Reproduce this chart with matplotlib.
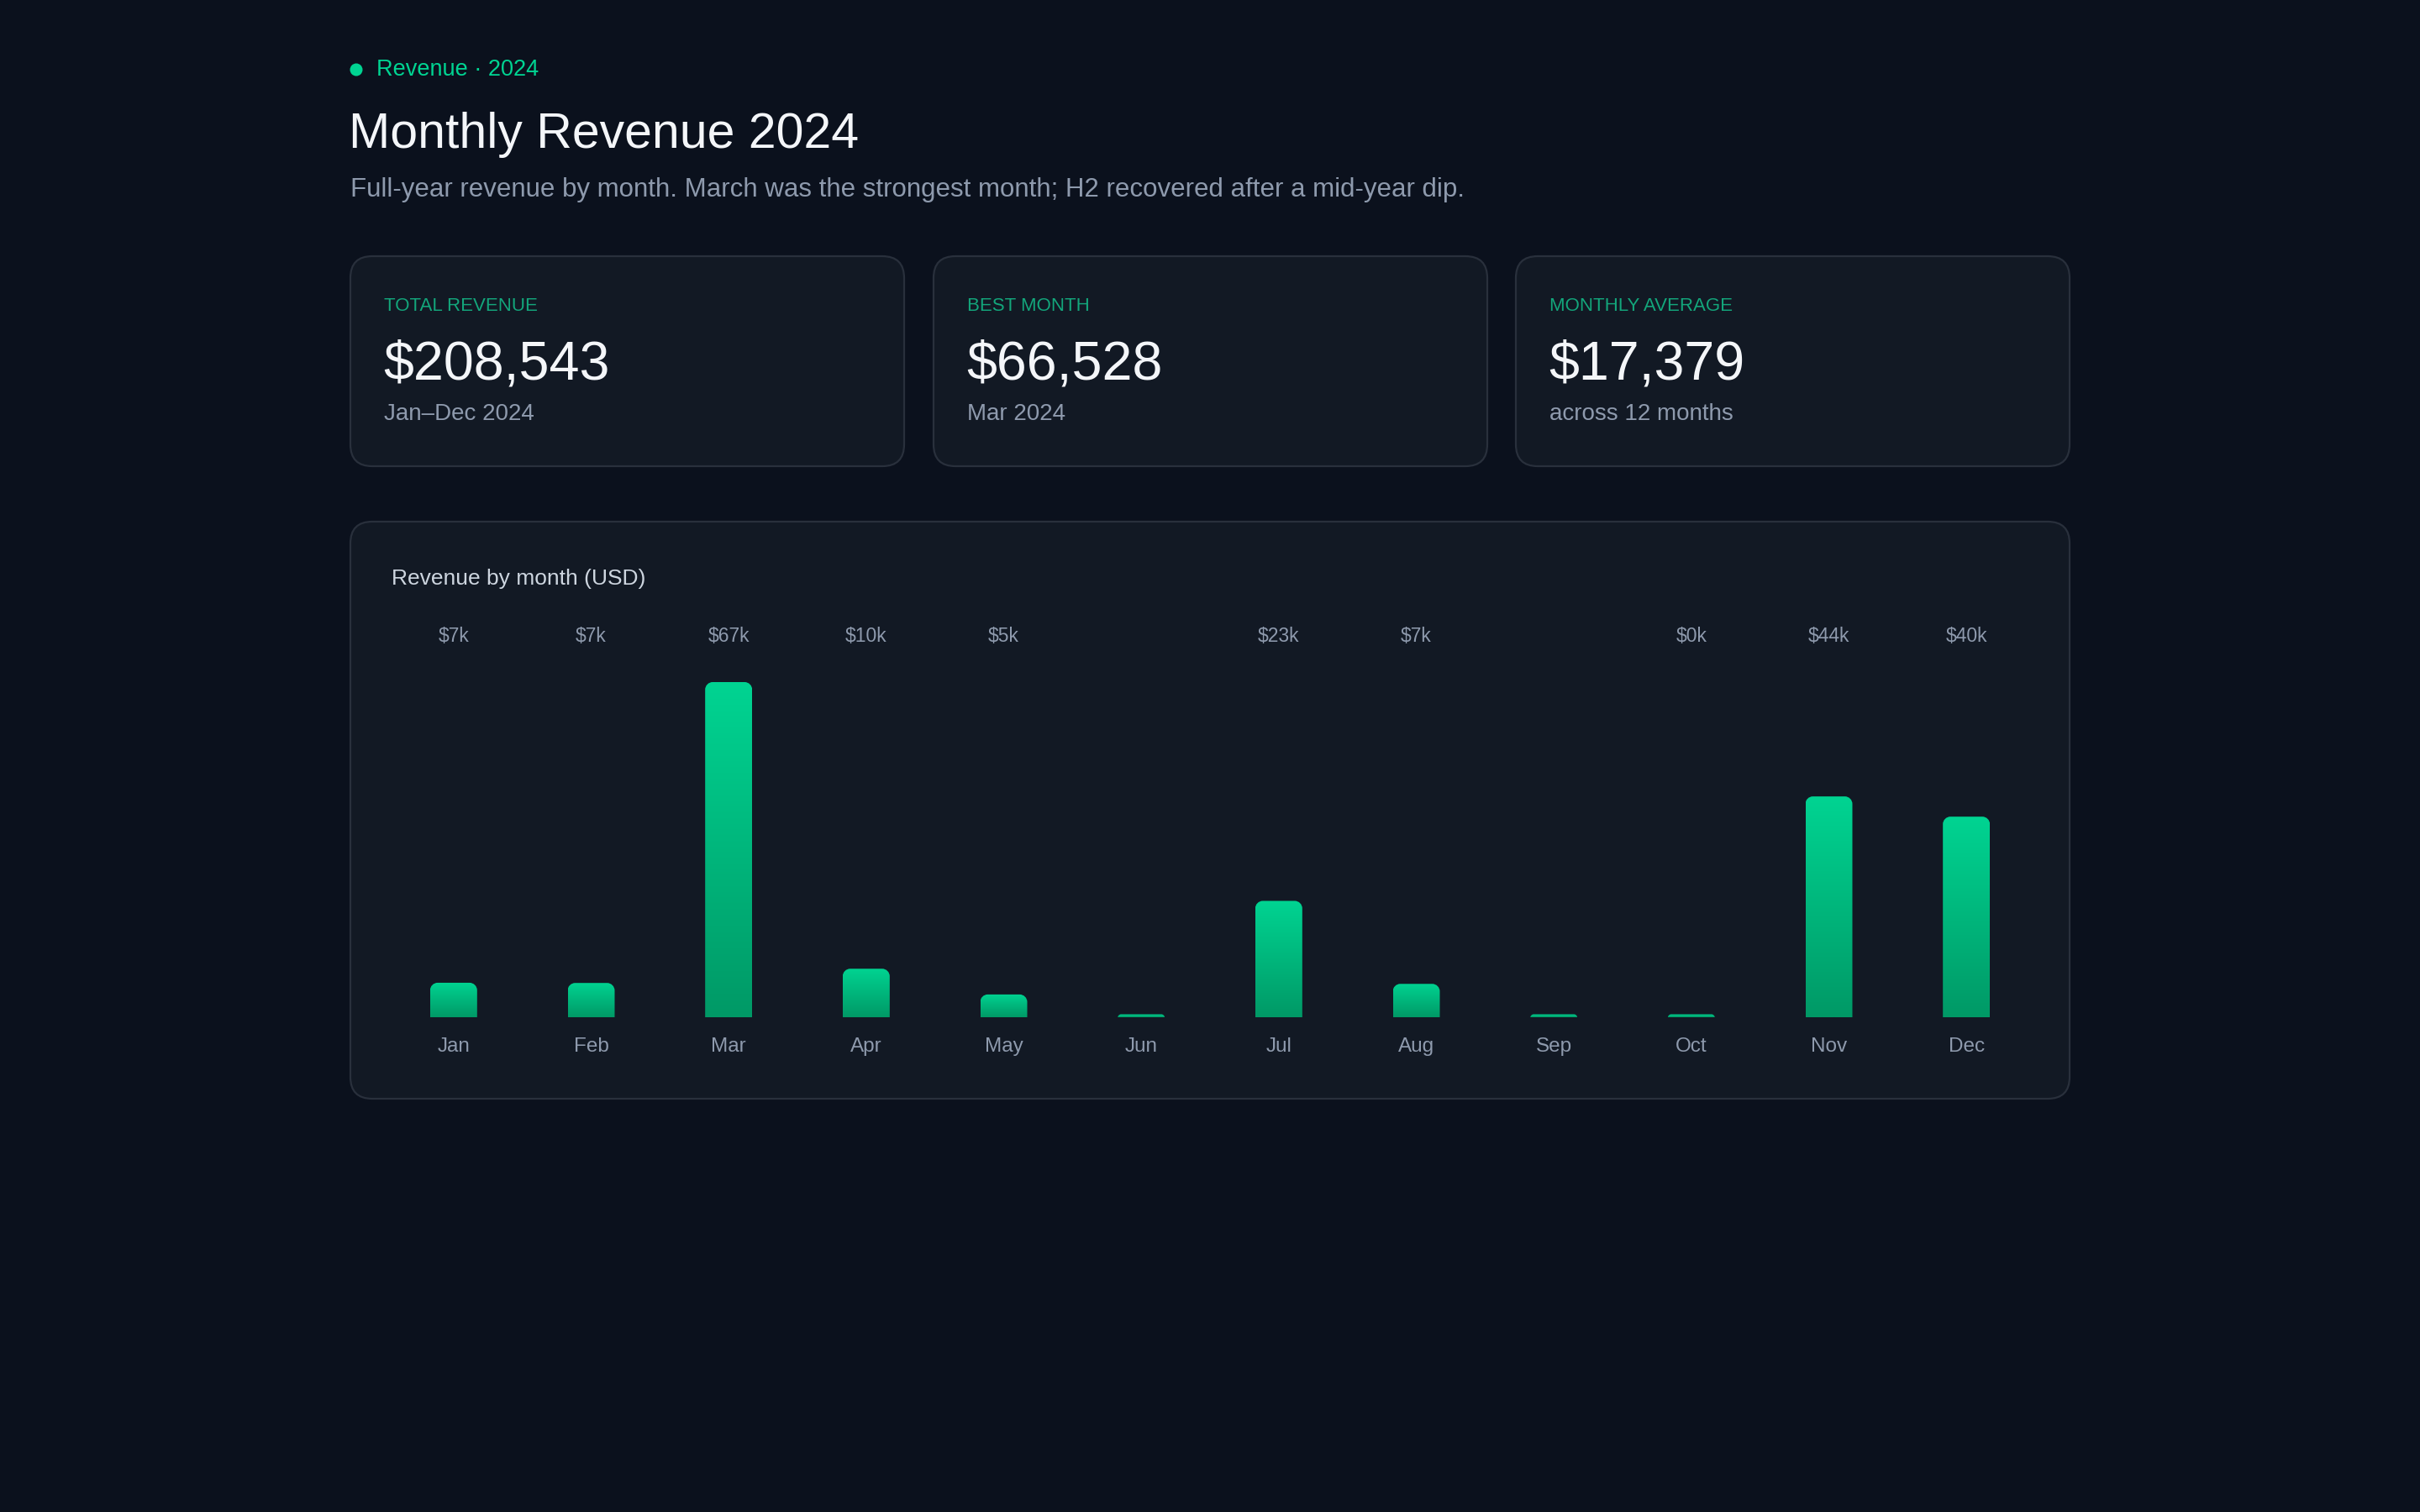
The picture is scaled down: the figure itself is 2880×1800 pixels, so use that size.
import matplotlib
matplotlib.use("Agg")
import matplotlib.pyplot as plt
import numpy as np
from matplotlib.patches import FancyBboxPatch, PathPatch, Circle
from matplotlib.path import Path
from matplotlib.colors import LinearSegmentedColormap
from matplotlib.transforms import blended_transform_factory

plt.rcParams['font.family'] = ['Liberation Sans', 'DejaVu Sans']

# ---------------- data ----------------
months = ["Jan", "Feb", "Mar", "Apr", "May", "Jun",
          "Jul", "Aug", "Sep", "Oct", "Nov", "Dec"]
revenue = [6920, 6880, 66528, 9700, 4600, 0,
           23150, 6700, 0, 355, 43860, 39850]

tag_text = "Revenue · 2024"
title_text = "Monthly Revenue 2024"
subtitle_text = ("Full-year revenue by month. March was the strongest month; "
                 "H2 recovered after a mid-year dip.")
card_labels = ["TOTAL REVENUE", "BEST MONTH", "MONTHLY AVERAGE"]
card_values = ["$208,543", "$66,528", "$17,379"]
card_subs = ["Jan–Dec 2024", "Mar 2024", "across 12 months"]
panel_title = "Revenue by month (USD)"

# ---------------- style ----------------
W, H = 2880, 1800
PAGE_BG = "#0b111d"
CARD_BG = "#121924"
BORDER = "#29303c"
GREEN = "#00d492"
LABEL_GREEN = "#13a67b"
TITLE_C = "#f4f6f9"
MUTED = "#8e9aad"
PANEL_TITLE_C = "#cdd5df"
BAR_TOP = "#00d492"
BAR_BOT = "#009966"

fig = plt.figure(figsize=(W / 100, H / 100), dpi=100, facecolor=PAGE_BG)
bg = fig.add_axes([0, 0, 1, 1])
bg.set_xlim(0, W)
bg.set_ylim(H, 0)
bg.axis("off")
bg.set_facecolor(PAGE_BG)

# header
bg.add_patch(Circle((424, 83), 7.5, color=GREEN, lw=0))
bg.text(448, 83, tag_text, color=GREEN, fontsize=19.5, va="center", ha="left")
bg.text(415, 161, title_text, color=TITLE_C, fontsize=42.5, va="center", ha="left")
bg.text(417, 226, subtitle_text, color=MUTED, fontsize=22.5, va="center", ha="left")

# cards
card_lefts = [417, 1111, 1804]
card_w = 659
card_top, card_bot = 305, 555
for i, cl in enumerate(card_lefts):
    bg.add_patch(FancyBboxPatch((cl, card_top), card_w, card_bot - card_top,
                                boxstyle="round,pad=0,rounding_size=26",
                                facecolor=CARD_BG, edgecolor=BORDER, lw=1.6))
    bg.text(cl + 40, 364, card_labels[i], color=LABEL_GREEN, fontsize=16,
            va="center", ha="left")
    bg.text(cl + 39, 434, card_values[i], color=TITLE_C, fontsize=46.5,
            va="center", ha="left")
    bg.text(cl + 40, 493, card_subs[i], color=MUTED, fontsize=20,
            va="center", ha="left")

# chart panel
bg.add_patch(FancyBboxPatch((417, 621), 2463 - 417, 1308 - 621,
                            boxstyle="round,pad=0,rounding_size=26",
                            facecolor=CARD_BG, edgecolor=BORDER, lw=1.6))
bg.text(466, 689, panel_title, color=PANEL_TITLE_C, fontsize=19,
        va="center", ha="left")

# bar axes
ax_left, ax_right = 458, 2422
base_y, top_y = 1211.5, 812
ax = fig.add_axes([ax_left / W, (H - base_y) / H,
                   (ax_right - ax_left) / W, (base_y - top_y) / H])
ax.axis("off")
ax.patch.set_alpha(0)

x = np.arange(len(months))
vmax = max(revenue)
ax.set_xlim(-0.5, len(months) - 0.5)
ax.set_ylim(0, vmax)
bar_w = 0.342
bars = ax.bar(x, revenue, width=bar_w, color="none", edgecolor="none")

px_per_x = (ax_right - ax_left) / len(months)
px_per_y = (base_y - top_y) / vmax
min_h = 4 / px_per_y

cmap = LinearSegmentedColormap.from_list("g", [BAR_BOT, BAR_TOP])
grad = np.linspace(0, 1, 256).reshape(-1, 1)
k = 0.5523

for b in bars:
    x0 = b.get_x()
    x1 = x0 + b.get_width()
    h = max(b.get_height(), min_h)
    h_px = h * px_per_y
    r_px = min(9.0, h_px)
    rx = r_px / px_per_x
    ry = r_px / px_per_y
    y0, y1 = 0, h
    verts = [(x0, y0), (x0, y1 - ry),
             (x0, y1 - ry + k * ry), (x0 + rx - k * rx, y1), (x0 + rx, y1),
             (x1 - rx, y1),
             (x1 - rx + k * rx, y1), (x1, y1 - ry + k * ry), (x1, y1 - ry),
             (x1, y0), (x0, y0)]
    codes = [Path.MOVETO, Path.LINETO,
             Path.CURVE4, Path.CURVE4, Path.CURVE4,
             Path.LINETO,
             Path.CURVE4, Path.CURVE4, Path.CURVE4,
             Path.LINETO, Path.CLOSEPOLY]
    patch = PathPatch(Path(verts, codes), transform=ax.transData,
                      facecolor="none", edgecolor="none")
    im = ax.imshow(grad, extent=[x0, x1, y0, y1], origin="lower",
                   aspect="auto", cmap=cmap, interpolation="bilinear", zorder=2)
    im.set_clip_path(patch)

ax.set_xlim(-0.5, len(months) - 0.5)
ax.set_ylim(0, vmax)

trans = blended_transform_factory(ax.transData, ax.transAxes)
lab_y = ((H - 758) - (H - base_y)) / (base_y - top_y)
mon_y = ((H - 1246) - (H - base_y)) / (base_y - top_y)
for i, v in enumerate(revenue):
    if v:
        ax.text(x[i], lab_y, f"${round(v / 1000)}k", transform=trans,
                color=MUTED, fontsize=16.5, ha="center", va="center", clip_on=False)
    ax.text(x[i], mon_y, months[i], transform=trans, color=MUTED,
            fontsize=17.5, ha="center", va="center", clip_on=False)

fig.savefig("out.png", dpi=100, facecolor=PAGE_BG)
